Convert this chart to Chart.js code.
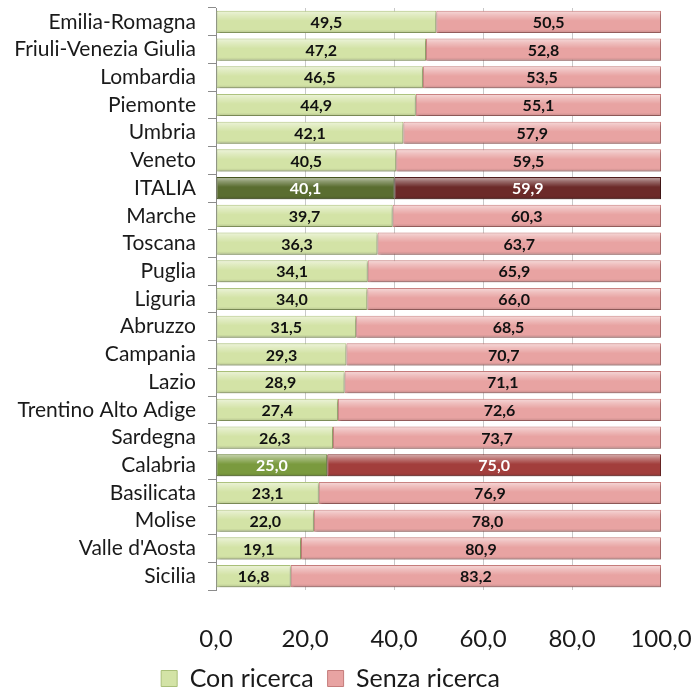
<!DOCTYPE html>
<html>
<head>
<meta charset="utf-8">
<script src="https://cdn.jsdelivr.net/npm/chart.js@4"></script>
<style>
  html, body { margin: 0; padding: 0; background: #fff; }
  #wrap { width: 696px; height: 695px; }
</style>
</head>
<body>
<div id="wrap"><canvas id="chart" width="696" height="695"></canvas></div>
<script>
const regions = ['Emilia-Romagna', 'Friuli-Venezia Giulia', 'Lombardia', 'Piemonte', 'Umbria', 'Veneto',
  'ITALIA', 'Marche', 'Toscana', 'Puglia', 'Liguria', 'Abruzzo', 'Campania', 'Lazio',
  'Trentino Alto Adige', 'Sardegna', 'Calabria', 'Basilicata', 'Molise', "Valle d'Aosta", 'Sicilia'];
const conRicerca = [49.5, 47.2, 46.5, 44.9, 42.1, 40.5, 40.1, 39.7, 36.3, 34.1, 34.0, 31.5, 29.3, 28.9, 27.4, 26.3, 25.0, 23.1, 22.0, 19.1, 16.8];
const senzaRicerca = [50.5, 52.8, 53.5, 55.1, 57.9, 59.5, 59.9, 60.3, 63.7, 65.9, 66.0, 68.5, 70.7, 71.1, 72.6, 73.7, 75.0, 76.9, 78.0, 80.9, 83.2];
const xTicks = [0, 20, 40, 60, 80, 100];

const ITALIA = regions.indexOf('ITALIA');
const CALABRIA = regions.indexOf('Calabria');

const palette = {
  con: '#d3e3a6', conBorder: '#a9bf78', conItalia: '#5a6d30', conCalabria: '#7a9a3e',
  senza: '#e8a3a2', senzaBorder: '#c57c7b', senzaItalia: '#6c2a29', senzaCalabria: '#a23e3c',
};

const pick = (base, italia, calabria) => (ctx) => {
  if (ctx.dataIndex === ITALIA) return italia;
  if (ctx.dataIndex === CALABRIA) return calabria;
  return base;
};

const fmt = (v) => v.toFixed(1).replace('.', ',');

// soft shadow under the bars
const shadowPlugin = {
  id: 'shadow',
  beforeDatasetDraw: (chart) => {
    const c = chart.ctx;
    c.save();
    c.shadowColor = 'rgba(0,0,0,0.28)';
    c.shadowOffsetY = 2;
    c.shadowOffsetX = 1;
    c.shadowBlur = 2;
  },
  afterDatasetDraw: (chart) => chart.ctx.restore(),
};

// bevel highlight + value labels
const labelPlugin = {
  id: 'barLabels',
  afterDatasetsDraw: (chart) => {
    const c = chart.ctx;
    chart.data.datasets.forEach((ds, di) => {
      const meta = chart.getDatasetMeta(di);
      meta.data.forEach((bar, i) => {
        const top = bar.y - bar.height / 2;
        const left = Math.min(bar.x, bar.base);
        const w = Math.abs(bar.x - bar.base);
        const g = c.createLinearGradient(0, top, 0, top + bar.height);
        g.addColorStop(0, 'rgba(255,255,255,0.6)');
        g.addColorStop(0.2, 'rgba(255,255,255,0.3)');
        g.addColorStop(0.45, 'rgba(255,255,255,0)');
        g.addColorStop(0.85, 'rgba(0,0,0,0)');
        g.addColorStop(1, 'rgba(0,0,0,0.15)');
        c.save();
        c.fillStyle = g;
        c.fillRect(left + 1, top + 1, w - 2, bar.height - 2);
        c.restore();

        c.save();
        c.font = 'bold 16px Lato';
        c.textAlign = 'center';
        c.textBaseline = 'middle';
        c.fillStyle = (i === ITALIA || i === CALABRIA) ? '#ffffff' : '#111111';
        c.fillText(fmt(ds.data[i]), (bar.x + bar.base) / 2, bar.y + 1);
        c.restore();
      });
    });
  },
};

Chart.defaults.font.family = 'Lato';
Chart.defaults.color = '#1a1a1a';

new Chart(document.getElementById('chart').getContext('2d'), {
  type: 'bar',
  data: {
    labels: regions,
    datasets: [
      {
        label: 'Con ricerca',
        data: conRicerca,
        backgroundColor: pick(palette.con, palette.conItalia, palette.conCalabria),
        borderColor: pick(palette.conBorder, '#46551f', '#5f7a2c'),
        borderWidth: 1,
        borderSkipped: false,
        barPercentage: 0.8,
        categoryPercentage: 1,
      },
      {
        label: 'Senza ricerca',
        data: senzaRicerca,
        backgroundColor: pick(palette.senza, palette.senzaItalia, palette.senzaCalabria),
        borderColor: pick(palette.senzaBorder, '#4f1c1b', '#7d2c2a'),
        borderWidth: 1,
        borderSkipped: false,
        barPercentage: 0.8,
        categoryPercentage: 1,
      },
    ],
  },
  options: {
    indexAxis: 'y',
    responsive: false,
    animation: false,
    layout: { padding: { top: 8, right: 35, bottom: -6, left: 0 } },
    plugins: {
      tooltip: { enabled: false },
      legend: {
        position: 'bottom',
        labels: {
          font: { size: 25 },
          boxWidth: 16,
          boxHeight: 16,
          padding: 14,
          color: '#1a1a1a',
        },
      },
    },
    scales: {
      x: {
        stacked: true,
        min: 0,
        max: 100,
        afterBuildTicks: (scale) => { scale.ticks = xTicks.map((v) => ({ value: v })); },
        afterFit: (scale) => {
          scale.height = 62;
          scale.paddingLeft = 0;
          scale.paddingRight = 0;
        },
        border: { display: false },
        grid: {
          drawTicks: false,
          color: (ctx) => (ctx.tick && (ctx.tick.value === 0 || ctx.tick.value === 100)) ? 'rgba(0,0,0,0)' : '#c8c8c8',
          lineWidth: 1,
        },
        ticks: {
          padding: 35,
          font: { size: 24 },
          color: '#1a1a1a',
          callback: (v) => fmt(v),
          maxRotation: 0,
        },
      },
      y: {
        stacked: true,
        afterFit: (scale) => {
          scale.width = 216;
          scale.paddingTop = 0;
          scale.paddingBottom = 0;
        },
        border: { display: true, color: '#8c8c8c', width: 1 },
        grid: {
          drawOnChartArea: false,
          tickLength: 8,
          color: '#8c8c8c',
          offset: true,
        },
        ticks: {
          autoSkip: false,
          padding: 12,
          font: { size: 21 },
          color: '#1a1a1a',
        },
      },
    },
  },
  plugins: [shadowPlugin, labelPlugin],
});
</script>
</body>
</html>
